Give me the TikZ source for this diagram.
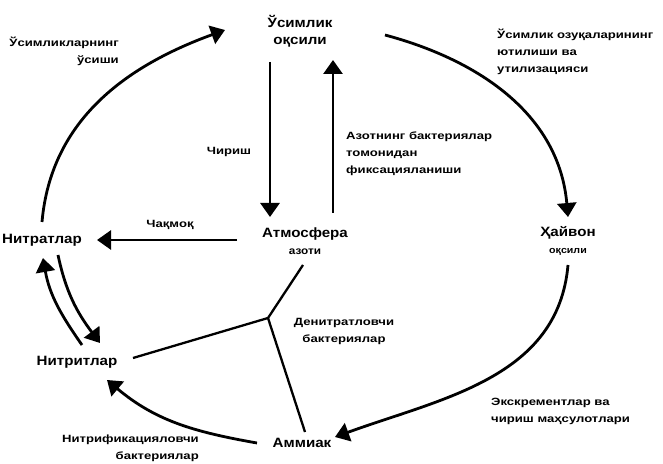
\documentclass[tikz,border=0pt]{standalone}
\usepackage{fontspec}
\setmainfont{Liberation Sans}
\newfontfamily\lblfont[FakeStretch=1.25]{Liberation Sans}
\newfontfamily\poolfont[FakeStretch=1.12]{Liberation Sans}
\usepackage{tikz}
\usetikzlibrary{arrows.meta,positioning}

\begin{document}
\begin{tikzpicture}[x=1pt,y=1pt,
    pool/.style={font=\poolfont\bfseries\fontsize{13.5}{17}\selectfont,align=center,inner sep=1pt},
    lbl/.style={font=\lblfont\bfseries\fontsize{10.5}{17}\selectfont,inner sep=1pt},
    flow/.style={line width=2.8pt,-{Triangle[length=14pt,width=19pt]}},
    link/.style={line width=2.3pt}]
    \useasboundingbox (0,0) rectangle (663,463);
    % nitrogen pools
    \node[pool] (plant) at (300,432) {Ўсимлик\\оқсили};
    \node[pool] (atm) at (305,222) {Атмосфера\\{\fontsize{10.5}{12}\selectfont азоти}};
    \node[pool] (nitrat) at (42,223) {Нитратлар};
    \node[pool] (animal) at (568,222) {Ҳайвон\\{\fontsize{9.5}{12}\selectfont оқсили}};
    \node[pool] (nitrit) at (77,101) {Нитритлар};
    \node[pool] (ammiak) at (302,20) {Аммиак};
    % process labels
    \node[lbl,align=right,anchor=east] (growth) at (120,411.5) {Ўсимликларнинг\\ўсиши};
    \node[lbl,align=left,anchor=west] (uptake) at (496,411.5) {Ўсимлик озуқаларининг\\ютилиши ва\\утилизацияси};
    \node[lbl] (decay) at (229,311) {Чириш};
    \node[lbl,align=left,anchor=west] (fix) at (345,309) {Азотнинг бактериялар\\томонидан\\фиксацияланиши};
    \node[lbl] (flash) at (170,238) {Чақмоқ};
    \node[lbl,align=center] (denitr) at (344,132) {Денитратловчи\\бактериялар};
    \node[lbl,align=left,anchor=west] (excr) at (490,52) {Экскрементлар ва\\чириш маҳсулотлари};
    \node[lbl,align=right,anchor=east] (nitrif) at (200,14.5) {Нитрификацияловчи\\бактериялар};
    % cycle
    \draw[flow] ([yshift=18pt]nitrat.center) to[out=85,in=200] ([xshift=-75pt,yshift=1pt]plant.center);
    \draw[flow] ([xshift=85pt,yshift=-4pt]plant.center) to[out=-15,in=95] ([yshift=24pt]animal.center);
    \draw[flow] ([yshift=-24pt]animal.center) to[out=-95,in=20] ([xshift=33pt,yshift=6pt]ammiak.center);
    \draw[flow] ([xshift=-45pt]ammiak.center) to[out=170,in=-40] ([xshift=30pt,yshift=-18pt]nitrit.center);
    \draw[flow] ([xshift=5pt,yshift=17pt]nitrit.center) to[out=125,in=-80] ([xshift=1pt,yshift=-18pt]nitrat.center);
    \draw[flow] ([xshift=16pt,yshift=-15pt]nitrat.center) to[out=-78,in=127] ([xshift=23pt,yshift=19pt]nitrit.center);
    % exchange with the air
    \draw[flow] ([xshift=-30pt,yshift=-31pt]plant.center) -- ([xshift=-35pt,yshift=24pt]atm.center);
    \draw[flow] ([xshift=28pt,yshift=28pt]atm.center) -- ([xshift=33pt,yshift=-29pt]plant.center);
    \draw[flow] ([xshift=-68pt,yshift=1pt]atm.center) -- ([xshift=55pt]nitrat.center);
    % denitrification fork
    \coordinate (fork) at (268,145);
    \draw[link] (fork) -- ([xshift=-2pt,yshift=-24pt]atm.center);
    \draw[link] (fork) -- ([xshift=56pt,yshift=4pt]nitrit.center);
    \draw[link] (fork) -- ([xshift=3pt,yshift=11pt]ammiak.center);
\end{tikzpicture}
\end{document}
